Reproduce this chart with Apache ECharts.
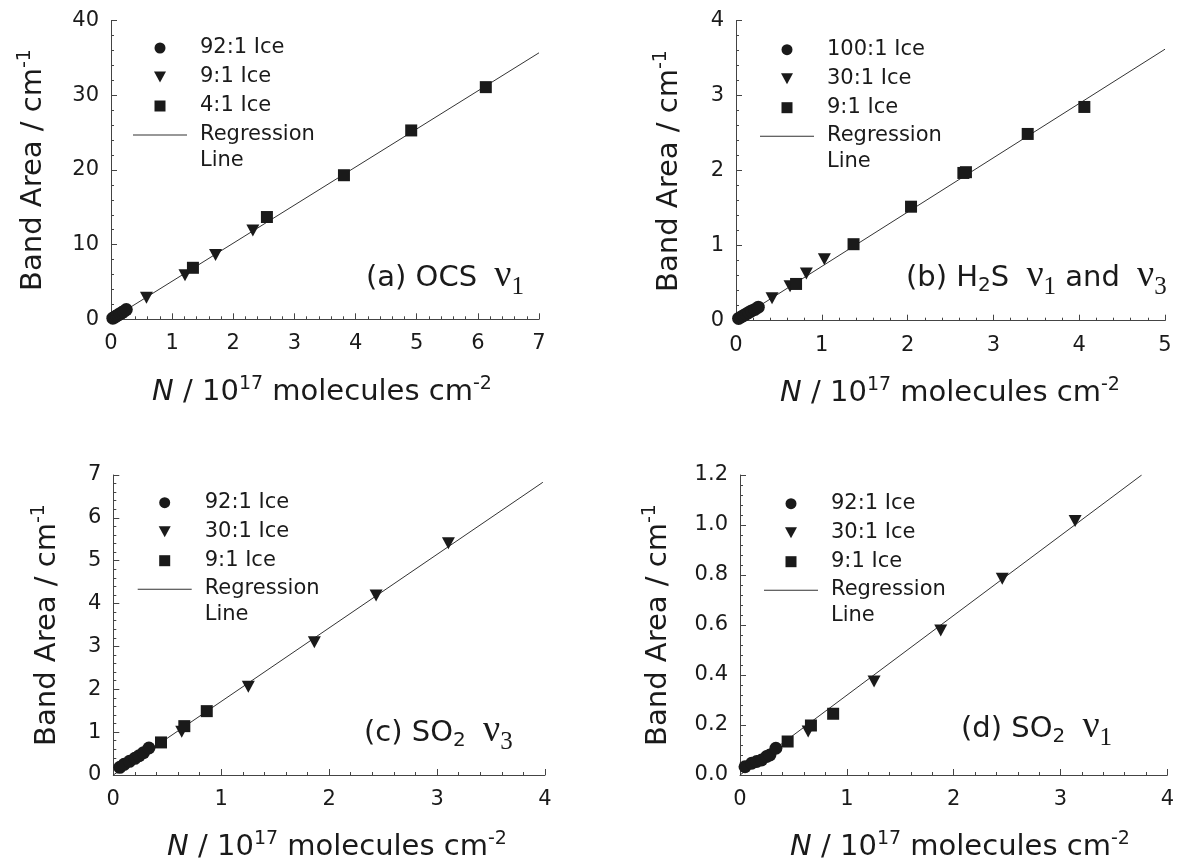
<!DOCTYPE html>
<html><head><meta charset="utf-8">
<script src="https://cdn.jsdelivr.net/npm/echarts@6/dist/echarts.min.js"></script>
<style>html,body{margin:0;padding:0;background:#fff}#c{width:1177px;height:865px}</style>
</head><body><div id="c"></div>
<script>
// ---------- data ----------
// (a) OCS nu1
const a_92to1 = [[0.03,0.15],[0.06,0.3],[0.09,0.45],[0.12,0.6],[0.15,0.75],[0.18,0.9],[0.21,1.05],[0.25,1.3]];
const a_9to1  = [[0.58,2.9],[1.21,5.9],[1.71,8.6],[2.32,11.9]];
const a_4to1  = [[1.34,6.9],[2.55,13.7],[3.81,19.3],[4.91,25.3],[6.13,31.1]];
const a_reg   = [[0,0],[7,35.7]];
// (b) H2S nu1 and nu3
const b_100to1 = [[0.03,0.03],[0.06,0.05],[0.09,0.07],[0.12,0.09],[0.15,0.11],[0.18,0.13],[0.22,0.15],[0.26,0.18]];
const b_30to1  = [[0.42,0.30],[0.63,0.46],[0.82,0.63],[1.03,0.82]];
const b_9to1   = [[0.70,0.49],[1.37,1.02],[2.04,1.52],[2.65,1.97],[2.68,1.98],[3.40,2.49],[4.06,2.85]];
const b_reg    = [[0,0],[5,3.62]];
// (c) SO2 nu3
const c_92to1 = [[0.06,0.18],[0.1,0.25],[0.15,0.32],[0.2,0.39],[0.24,0.45],[0.28,0.52],[0.33,0.63]];
const c_30to1 = [[0.634,1.01],[1.251,2.06],[1.863,3.10],[2.435,4.19],[3.105,5.41]];
const c_9to1  = [[0.442,0.76],[0.658,1.14],[0.866,1.49]];
const c_reg   = [[0,0],[3.98,6.83]];
// (d) SO2 nu1
const d_92to1 = [[0.047,0.033],[0.109,0.047],[0.156,0.054],[0.202,0.060],[0.249,0.074],[0.280,0.080],[0.336,0.107]];
const d_30to1 = [[0.638,0.174],[1.255,0.374],[1.879,0.578],[2.455,0.785],[3.137,1.016]];
const d_9to1  = [[0.446,0.134],[0.664,0.198],[0.872,0.245]];
const d_reg   = [[0,0],[3.76,1.2]];

// axis ranges / ticks
const xMax = [7, 5, 4, 4];
const yMax = [40, 4, 7, 1.2];
const yInterval = [10, 1, 1, 0.2];
const yDecimals = [0, 0, 0, 1];

// legend names per panel
const legendNames = [
  ['92:1 Ice','9:1 Ice','4:1 Ice'],
  ['100:1 Ice','30:1 Ice','9:1 Ice'],
  ['92:1 Ice','30:1 Ice','9:1 Ice'],
  ['92:1 Ice','30:1 Ice','9:1 Ice']
];
const regName = 'Regression\nLine';

// ---------- styling ----------
const FONT = 'DejaVu Sans';
const INK = '#1a1a1a';
const AX = '#444';
const CIRCLE = 'circle';
const TRI = 'path://M0,0L12,0L6,11Z';
const SQUARE = 'path://M0,0L10,0L10,10L0,10Z';
// thin bar at the top of a 54x26 box (second sub-path is zero-area, only sets the box)
const LINEICON = 'path://M0,0L54,0L54,1L0,1ZM0,26L54,26Z';
const SYM = {circle: [CIRCLE, 13], tri: [TRI, [13, 12]], square: [SQUARE, 12]};

const grids = [
  {left:111, top:20.7, width:428, height:298.6},
  {left:736, top:20.7, width:429, height:300},
  {left:113.3, top:475, width:431.7, height:300},
  {left:740, top:475, width:428, height:300}
];
// left edge of legend icon box, and centre y of first legend row / of the regression row
const legendLeft = [133, 760, 137.7, 764];
const legendRow1 = [46, 47.7, 500.7, 501.7];
const legendRegRow = [133, 134.3, 587.3, 588.3];

const panelSeries = [
  [[a_92to1,'circle'],[a_9to1,'tri'],[a_4to1,'square'], a_reg],
  [[b_100to1,'circle'],[b_30to1,'tri'],[b_9to1,'square'], b_reg],
  [[c_92to1,'circle'],[c_30to1,'tri'],[c_9to1,'square'], c_reg],
  [[d_92to1,'circle'],[d_30to1,'tri'],[d_9to1,'square'], d_reg]
];

function axisBase() {
  return {
    type: 'value',
    axisLine: {show: true, onZero: false, lineStyle: {color: AX, width: 1}},
    axisTick: {show: true, inside: true, length: 6, lineStyle: {color: AX}},
    minorTick: {show: true, splitNumber: 5, length: 3, lineStyle: {color: AX}},
    splitLine: {show: false},
    minorSplitLine: {show: false},
    axisLabel: {fontFamily: FONT, fontSize: 21, color: INK, margin: 12}
  };
}
function legendText() {
  return {fontFamily: FONT, fontSize: 21, color: INK, lineHeight: 26, padding: [0,0,0,8]};
}

const xAxis = [], yAxis = [], series = [], legend = [];
for (let p = 0; p < 4; p++) {
  const xa = axisBase();
  Object.assign(xa, {gridIndex: p, min: 0, max: xMax[p], interval: 1});
  xa.axisLabel = Object.assign({}, xa.axisLabel, {margin: 14});
  xAxis.push(xa);
  const ya = axisBase();
  const dec = yDecimals[p];
  Object.assign(ya, {gridIndex: p, min: 0, max: yMax[p], interval: yInterval[p]});
  ya.axisLabel = Object.assign({}, ya.axisLabel, {formatter: v => v.toFixed(dec)});
  yAxis.push(ya);

  const ps = panelSeries[p];
  series.push({
    type: 'line', name: regName, xAxisIndex: p, yAxisIndex: p, data: ps[3],
    symbol: 'none', lineStyle: {color: '#333', width: 1}, itemStyle: {color: '#333'},
    silent: true, z: 1
  });
  for (let k = 0; k < 3; k++) {
    const [data, shape] = ps[k];
    series.push({
      type: 'scatter', name: legendNames[p][k], xAxisIndex: p, yAxisIndex: p, data: data,
      symbol: SYM[shape][0], symbolSize: SYM[shape][1],
      itemStyle: {color: INK, opacity: 1}, silent: true, z: 3
    });
  }
  // marker legend: the visible icons start ~21px inside the 54px icon box
  legend.push({
    orient: 'vertical', left: legendLeft[p] + 21, top: legendRow1[p] - 11, padding: 0,
    itemWidth: 54, itemHeight: 11, itemGap: 3, selectedMode: false,
    textStyle: legendText(),
    data: [
      {name: legendNames[p][0], icon: CIRCLE, itemStyle: {color: INK}},
      {name: legendNames[p][1], icon: TRI, itemStyle: {color: INK}},
      {name: legendNames[p][2], icon: SQUARE, itemStyle: {color: INK}}
    ]
  });
  legend.push({
    orient: 'vertical', left: legendLeft[p], top: legendRegRow[p] - 11.5, padding: 0,
    itemWidth: 54, itemHeight: 26, selectedMode: false,
    textStyle: legendText(),
    data: [{name: regName, icon: LINEICON, itemStyle: {color: '#333'}}]
  });
}

// ---------- titles & annotations ----------
const RICH_T = {
  m: {fontFamily: FONT, fontSize: 29, fill: INK},
  i: {fontFamily: FONT, fontSize: 29, fontStyle: 'italic', fill: INK},
  s: {fontFamily: FONT, fontSize: 19, fill: INK, padding: [0,0,15,0]}
};
const RICH_Y = {
  m: {fontFamily: FONT, fontSize: 29, fill: INK},
  s: {fontFamily: FONT, fontSize: 19, fill: INK, padding: [0,0,15,0]}
};
const RICH_A = {
  t: {fontFamily: FONT, fontSize: 29, fill: INK},
  ts: {fontFamily: FONT, fontSize: 20, fill: INK, padding: [16,0,0,0]},
  n: {fontFamily: 'Liberation Serif', fontSize: 38, fill: INK, padding: [0,0,4,8]},
  ns: {fontFamily: 'Liberation Serif', fontSize: 25, fill: INK, padding: [18,0,0,0]}
};
const xTitle = '{i|N}{m| / 10}{s|17}{m| molecules cm}{s|-2}';
const yTitle = '{m|Band Area / cm}{s|-1}';
const xTitlePos = [[322,392],[950,393],[337,847],[960,847]];
const yTitlePos = [[33,170],[669,171],[47,625],[658,625]];
const notes = [
  ['{t|(a) OCS }{n|ν}{ns|1}', 366, 278],
  ['{t|(b) H}{ts|2}{t|S }{n|ν}{ns|1}{t| and }{n|ν}{ns|3}', 906, 278],
  ['{t|(c) SO}{ts|2}{t| }{n|ν}{ns|3}', 364, 733],
  ['{t|(d) SO}{ts|2}{t| }{n|ν}{ns|1}', 961, 729]
];
const graphic = [];
for (let p = 0; p < 4; p++) {
  graphic.push({type: 'text', x: xTitlePos[p][0], y: xTitlePos[p][1], silent: true,
    style: {text: xTitle, rich: RICH_T, align: 'center', verticalAlign: 'middle', textAlign: 'center', textVerticalAlign: 'middle'}});
  graphic.push({type: 'text', x: yTitlePos[p][0], y: yTitlePos[p][1], rotation: Math.PI / 2, silent: true,
    style: {text: yTitle, rich: RICH_Y, align: 'center', verticalAlign: 'middle', textAlign: 'center', textVerticalAlign: 'middle'}});
  graphic.push({type: 'text', x: notes[p][1], y: notes[p][2], silent: true,
    style: {text: notes[p][0], rich: RICH_A, align: 'left', verticalAlign: 'middle', textAlign: 'left', textVerticalAlign: 'middle'}});
}

const chart = echarts.init(document.getElementById('c'), null, {renderer: 'canvas'});
chart.setOption({
  backgroundColor: '#ffffff',
  animation: false,
  grid: grids,
  xAxis: xAxis,
  yAxis: yAxis,
  legend: legend,
  series: series,
  graphic: graphic
});
</script></body></html>
